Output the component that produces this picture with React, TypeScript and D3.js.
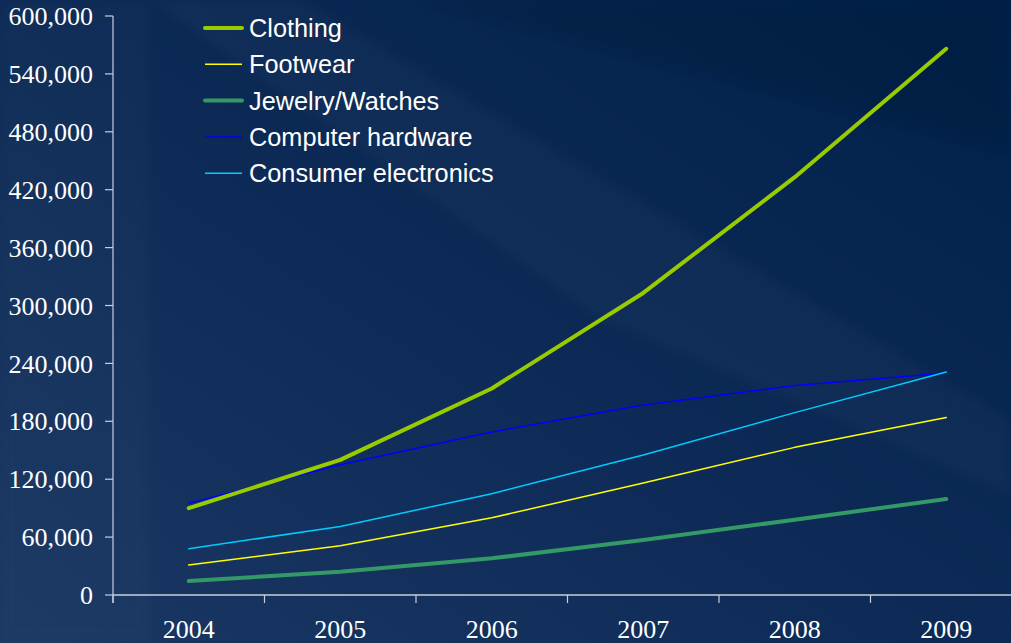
import React from "react";
import * as d3 from "d3";

const years = ["2004", "2005", "2006", "2007", "2008", "2009"];
const yTicks = [0, 60000, 120000, 180000, 240000, 300000, 360000, 420000, 480000, 540000, 600000];
const clothing = [90000, 140000, 214000, 313000, 433000, 566000];
const footwear = [31000, 51000, 80000, 116000, 153000, 184000];
const jewelry = [14500, 24000, 38000, 57000, 78000, 99500];
const computerHardware = [95000, 135000, 169000, 197000, 217000, 230000];
const consumerElectronics = [48000, 71000, 105000, 145000, 189000, 231000];

const seriesNames = ["Clothing", "Footwear", "Jewelry/Watches", "Computer hardware", "Consumer electronics"];
const seriesValues = [clothing, footwear, jewelry, computerHardware, consumerElectronics];
const seriesColors = ["#99cc00", "#ffff00", "#339966", "#0000ff", "#00ccff"];
const seriesWidths = [4, 1.5, 4, 1.5, 1.5];

const W = 1011;
const H = 643;
const left = 113;
const right = 1022;
const top = 16;
const bottom = 595;

export default function App() {
  const x = d3.scaleBand<string>().domain(years).range([left, right]).padding(0);
  const y = d3.scaleLinear().domain([0, 600000]).range([bottom, top]);
  const line = d3
    .line<number>()
    .x((_, i) => (x(years[i]) as number) + x.bandwidth() / 2)
    .y((d) => y(d));
  const fmt = d3.format(",");
  const tickXs = years.map((yr) => x(yr) as number);

  const order = [3, 4, 1, 2, 0];

  return (
    <svg
      width={W}
      height={H}
      style={{ position: "absolute", left: 0, top: 0, display: "block" }}
    >
      <defs>
        <linearGradient id="bg" x1="0" y1="1" x2="1" y2="0">
          <stop offset="0" stopColor="#1a3863" />
          <stop offset="0.5" stopColor="#0c2a55" />
          <stop offset="1" stopColor="#002049" />
        </linearGradient>
        <filter id="soft" x="-10%" y="-10%" width="120%" height="120%">
          <feGaussianBlur stdDeviation="6" />
        </filter>
      </defs>
      <rect x={0} y={0} width={W} height={H} fill="url(#bg)" />
      {/* lighter wedge streak */}
      <polygon points="150,0 300,0 1011,420 1011,495 600,318" fill="#ffffff" opacity={0.025} filter="url(#soft)" />
      {/* darker top-right band */}
      <polygon points="420,0 1011,0 1011,150" fill="#000814" opacity={0.1} filter="url(#soft)" />
      {/* light left column */}
      <polygon points="0,0 150,0 150,643 0,643" fill="#ffffff" opacity={0.015} filter="url(#soft)" />

      {/* y axis */}
      <line x1={left} y1={top} x2={left} y2={bottom + 8} stroke="#c8cfdc" strokeWidth={1.2} />
      {yTicks.map((t) => (
        <g key={t}>
          <line x1={left - 8} x2={left} y1={y(t)} y2={y(t)} stroke="#c8cfdc" strokeWidth={1.2} />
          <text
            x={93}
            y={y(t)}
            dy="0.35em"
            textAnchor="end"
            fill="#ffffff"
            fontFamily="Liberation Serif, Times New Roman, serif"
            fontSize={26}
          >
            {fmt(t)}
          </text>
        </g>
      ))}

      {/* x axis */}
      <line x1={left} y1={bottom} x2={W} y2={bottom} stroke="#c8cfdc" strokeWidth={1.5} />
      {tickXs.map((tx, i) => (
        <line key={i} x1={tx} x2={tx} y1={bottom} y2={bottom + 8} stroke="#c8cfdc" strokeWidth={1.2} />
      ))}
      {years.map((yr) => (
        <text
          key={yr}
          x={(x(yr) as number) + x.bandwidth() / 2}
          y={638}
          textAnchor="middle"
          fill="#ffffff"
          fontFamily="Liberation Serif, Times New Roman, serif"
          fontSize={26}
        >
          {yr}
        </text>
      ))}

      {/* series */}
      {order.map((k) => (
        <path
          key={seriesNames[k]}
          d={line(seriesValues[k]) || ""}
          fill="none"
          stroke={seriesColors[k]}
          strokeWidth={seriesWidths[k]}
          strokeLinejoin="round"
          strokeLinecap="round"
        />
      ))}

      {/* legend */}
      {seriesNames.map((n, i) => {
        const ly = 28 + i * 36.3;
        return (
          <g key={n}>
            <line
              x1={205}
              x2={242}
              y1={ly}
              y2={ly}
              stroke={seriesColors[i]}
              strokeWidth={seriesWidths[i] === 4 ? 4 : 1.5}
              strokeLinecap={seriesWidths[i] === 4 ? "round" : "butt"}
            />
            <text
              x={249}
              y={ly}
              dy="0.36em"
              fill="#ffffff"
              fontFamily="Liberation Sans, Arial, sans-serif"
              fontSize={25.3}
            >
              {n}
            </text>
          </g>
        );
      })}
    </svg>
  );
}
